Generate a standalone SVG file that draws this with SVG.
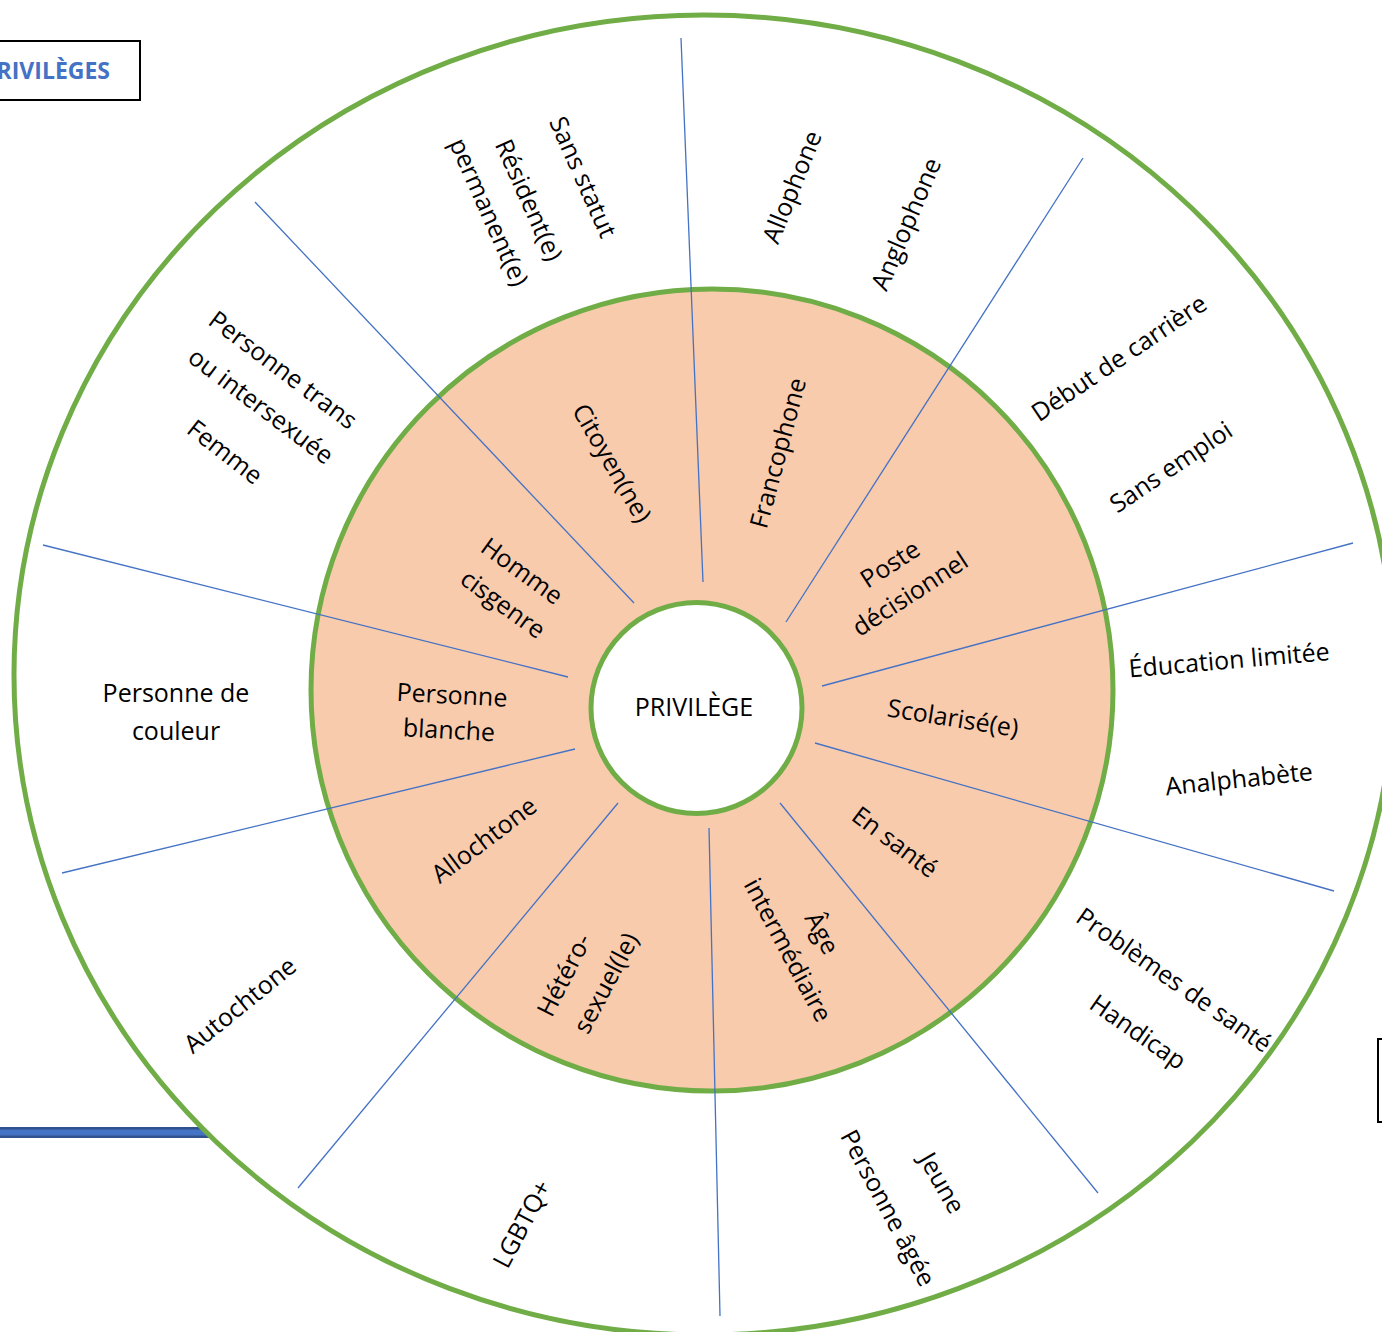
<svg xmlns="http://www.w3.org/2000/svg" width="1382" height="1332" viewBox="0 0 1382 1332">
<style>
.ring{stroke:#70AD47;stroke-width:5}
.spoke{stroke:#4472C4;stroke-width:1.3}
.t{font-family:"Open Sans","DejaVu Sans",sans-serif;font-size:25px;fill:#000;text-anchor:middle}
.box{fill:#fff;stroke:#000;stroke-width:2}
</style>
<rect width="1382" height="1332" fill="#fff"/>
<g id="title-box">
<rect class="box" x="-10" y="41" width="150" height="59"/>
<text x="110" y="79" font-family="Open Sans, DejaVu Sans, sans-serif" font-size="23" font-weight="bold" fill="#4472C4" text-anchor="end">PRIVILÈGES</text>
</g>
<g id="right-box"><rect class="box" x="1378" y="1039" width="20" height="83"/></g>
<g id="bar">
<line x1="-5" y1="1132.5" x2="320" y2="1132.5" stroke="#2F528F" stroke-width="11"/>
<line x1="-5" y1="1132.5" x2="320" y2="1132.5" stroke="#4472C4" stroke-width="6"/>
</g>
<g id="outer-ring"><ellipse class="ring" cx="704" cy="675" rx="690" ry="660" fill="#fff"/></g>
<g id="middle-ring"><circle class="ring" cx="712" cy="690" r="401" fill="#F8CBAD"/></g>
<g id="connectors">
<line class="spoke" x1="681" y1="38" x2="703" y2="582"/>
<line class="spoke" x1="1083" y1="158" x2="786" y2="622"/>
<line class="spoke" x1="1353" y1="543" x2="822" y2="686"/>
<line class="spoke" x1="815" y1="743" x2="1334" y2="891"/>
<line class="spoke" x1="780" y1="803" x2="1098" y2="1193"/>
<line class="spoke" x1="709" y1="828" x2="720" y2="1316"/>
<line class="spoke" x1="618" y1="803" x2="298" y2="1188"/>
<line class="spoke" x1="575" y1="749" x2="62" y2="873"/>
<line class="spoke" x1="43" y1="545" x2="568" y2="677"/>
<line class="spoke" x1="255" y1="202" x2="634" y2="603"/>
</g>
<g id="center">
<circle class="ring" cx="696.5" cy="708" r="105.5" fill="#fff"/>
<text class="t" x="694" y="716">PRIVILÈGE</text>
</g>
<g id="inner-labels">
<g id="citoyen"><text class="t" dy=".35em" transform="translate(612,463) rotate(60)">Citoyen(ne)</text></g>
<g id="francophone"><text class="t" dy=".35em" transform="translate(778,453) rotate(-75)">Francophone</text></g>
<g id="poste"><text class="t" dy=".35em" transform="translate(890,564) rotate(-33)">Poste</text><text class="t" dy=".35em" transform="translate(910,594) rotate(-33)">décisionnel</text></g>
<g id="scolarise"><text class="t" dy=".35em" transform="translate(953,718) rotate(9)">Scolarisé(e)</text></g>
<g id="sante"><text class="t" dy=".35em" transform="translate(895,842) rotate(37)">En santé</text></g>
<g id="age"><text class="t" dy=".35em" transform="translate(822,933) rotate(62)">Âge</text><text class="t" dy=".35em" transform="translate(788,950) rotate(62)">intermédiaire</text></g>
<g id="hetero"><text class="t" dy=".35em" transform="translate(564,975) rotate(-63)">Hétéro-</text><text class="t" dy=".35em" transform="translate(606,983) rotate(-62)">sexuel(le)</text></g>
<g id="allochtone"><text class="t" dy=".35em" transform="translate(484,840) rotate(-37)">Allochtone</text></g>
<g id="blanche"><text class="t" dy=".35em" transform="translate(452,695) rotate(3)">Personne</text><text class="t" dy=".35em" transform="translate(449,730) rotate(3)">blanche</text></g>
<g id="homme"><text class="t" dy=".35em" transform="translate(522,571) rotate(36)">Homme</text><text class="t" dy=".35em" transform="translate(503,604) rotate(36)">cisgenre</text></g>
</g>
<g id="outer-labels">
<g id="statut"><text class="t" dy=".35em" transform="translate(583,177) rotate(66)">Sans statut</text><text class="t" dy=".35em" transform="translate(529,200) rotate(66)">Résident(e)</text><text class="t" dy=".35em" transform="translate(489,212) rotate(66)">permanent(e)</text></g>
<g id="langues"><text class="t" dy=".35em" transform="translate(792,187) rotate(-68)">Allophone</text><text class="t" dy=".35em" transform="translate(906,224) rotate(-67)">Anglophone</text></g>
<g id="emploi"><text class="t" dy=".35em" transform="translate(1119,358) rotate(-34)">Début de carrière</text><text class="t" dy=".35em" transform="translate(1171,467) rotate(-34)">Sans emploi</text></g>
<g id="education"><text class="t" dy=".35em" transform="translate(1229,660) rotate(-5)">Éducation limitée</text><text class="t" dy=".35em" transform="translate(1239,779) rotate(-6)">Analphabète</text></g>
<g id="handicap"><text class="t" dy=".35em" transform="translate(1174,980) rotate(35)">Problèmes de santé</text><text class="t" dy=".35em" transform="translate(1138,1032) rotate(35)">Handicap</text></g>
<g id="ages"><text class="t" dy=".35em" transform="translate(942,1183) rotate(60)">Jeune</text><text class="t" dy=".35em" transform="translate(888,1208) rotate(62)">Personne âgée</text></g>
<g id="lgbtq"><text class="t" dy=".35em" transform="translate(522,1224) rotate(-62)">LGBTQ+</text></g>
<g id="autochtone"><text class="t" dy=".35em" transform="translate(240,1005) rotate(-39)">Autochtone</text></g>
<g id="couleur"><text class="t" dy=".35em" transform="translate(176,693)">Personne de</text><text class="t" dy=".35em" transform="translate(176,731)">couleur</text></g>
<g id="genre"><text class="t" dy=".35em" transform="translate(283,370) rotate(37)">Personne trans</text><text class="t" dy=".35em" transform="translate(261,406) rotate(37)">ou intersexuée</text><text class="t" dy=".35em" transform="translate(225,452) rotate(38)">Femme</text></g>
</g>
</svg>
